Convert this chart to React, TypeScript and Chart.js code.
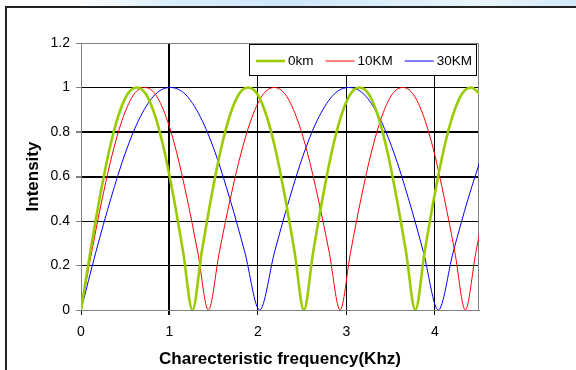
import React, { useEffect, useRef } from 'react';
import { Chart, registerables } from 'chart.js';

Chart.register(...registerables);

const seriesLabels = ['0km', '10KM', '30KM'];
const seriesColors = ['#99cc00', '#ff0000', '#0000ff'];
const seriesWidths = [2.6, 1, 1];

const xTitle = 'Charecteristic frequency(Khz)';
const yTitle = 'Intensity';

// 0km
const greenX = [
  0, 0.105, 0.21, 0.315, 0.42, 0.525, 0.63, 0.735, 0.84, 0.945, 1.05, 1.155,
  1.26, 1.365, 1.47, 1.575, 1.68, 1.785, 1.89, 1.995, 2.1, 2.205, 2.31, 2.415,
  2.52, 2.625, 2.73, 2.835, 2.94, 3.045, 3.15, 3.255, 3.36, 3.465, 3.57, 3.675,
  3.78, 3.885, 3.99, 4.095, 4.2, 4.305, 4.41, 4.515,
];
const greenY = [
  0, 0.26, 0.5, 0.71, 0.87, 0.97, 1, 0.97, 0.87, 0.71, 0.5, 0.26,
  0, 0.26, 0.5, 0.71, 0.87, 0.97, 1, 0.97, 0.87, 0.71, 0.5, 0.26,
  0, 0.26, 0.5, 0.71, 0.87, 0.97, 1, 0.97, 0.87, 0.71, 0.5, 0.26,
  0, 0.26, 0.5, 0.71, 0.87, 0.97, 1, 0.97,
];

// 10KM
const redX = [
  0, 0.12, 0.24, 0.36, 0.48, 0.6, 0.72, 0.84, 0.96, 1.08, 1.2, 1.32,
  1.44, 1.564, 1.688, 1.813, 1.937, 2.061, 2.185, 2.309, 2.433, 2.558, 2.682, 2.806,
  2.93, 3.048, 3.166, 3.284, 3.402, 3.52, 3.638, 3.756, 3.874, 3.992, 4.109, 4.227,
  4.345, 4.465, 4.585,
];
const redY = [
  0, 0.26, 0.5, 0.71, 0.87, 0.97, 1, 0.97, 0.87, 0.71, 0.5, 0.26,
  0, 0.26, 0.5, 0.71, 0.87, 0.97, 1, 0.97, 0.87, 0.71, 0.5, 0.26,
  0, 0.26, 0.5, 0.71, 0.87, 0.97, 1, 0.97, 0.87, 0.71, 0.5, 0.26,
  0, 0.26, 0.5,
];

// 30KM
const blueX = [
  0, 0.168, 0.337, 0.505, 0.673, 0.842, 1.01, 1.178, 1.347, 1.515, 1.683, 1.852,
  2.02, 2.188, 2.357, 2.525, 2.693, 2.862, 3.03, 3.198, 3.367, 3.535, 3.703, 3.872,
  4.04, 4.208, 4.377, 4.545,
];
const blueY = [
  0, 0.26, 0.5, 0.71, 0.87, 0.97, 1, 0.97, 0.87, 0.71, 0.5, 0.26,
  0, 0.26, 0.5, 0.71, 0.87, 0.97, 1, 0.97, 0.87, 0.71, 0.5, 0.26,
  0, 0.26, 0.5, 0.71,
];

const xMin = 0;
const xMax = 4.5;
const xStep = 1;
const yMin = 0;
const yMax = 1.2;
const yStep = 0.2;

const FONT = "'Liberation Sans', Arial, sans-serif";

const pts = (xs: number[], ys: number[]) => xs.map((x, i) => ({ x, y: ys[i] }));

const near = (a: number, b: number) => Math.abs(a - b) < 1e-6;

const frameBorderPlugin = {
  id: 'frameBorder',
  beforeDatasetsDraw(chart: any) {
    const { ctx, chartArea } = chart;
    ctx.save();
    ctx.strokeStyle = '#808080';
    ctx.lineWidth = 1;
    ctx.beginPath();
    const x = Math.round(chartArea.right) - 0.5;
    ctx.moveTo(x, chartArea.top);
    ctx.lineTo(x, chartArea.bottom);
    ctx.stroke();
    ctx.restore();
  },
};

const boxLegendPlugin = {
  id: 'boxLegend',
  afterDraw(chart: any) {
    const { ctx, chartArea } = chart;
    const right = Math.round(chartArea.right) - 2;
    const top = Math.round(chartArea.top) + 1;
    const width = 228;
    const height = 32;
    const left = right - width;
    ctx.save();
    ctx.fillStyle = '#ffffff';
    ctx.fillRect(left, top, width, height);
    ctx.strokeStyle = '#000000';
    ctx.lineWidth = 1;
    ctx.strokeRect(left + 0.5, top + 0.5, width - 1, height - 1);
    ctx.font = `13.5px ${FONT}`;
    ctx.textBaseline = 'middle';
    ctx.textAlign = 'left';
    const cy = top + 17;
    let x = left + 7;
    chart.data.datasets.forEach((ds: any) => {
      ctx.strokeStyle = ds.borderColor;
      ctx.lineWidth = ds.borderWidth;
      ctx.beginPath();
      ctx.moveTo(x, cy);
      ctx.lineTo(x + 29, cy);
      ctx.stroke();
      ctx.fillStyle = '#000000';
      ctx.fillText(ds.label, x + 32, cy);
      x += 32 + ctx.measureText(ds.label).width + 12;
    });
    ctx.restore();
  },
};

export default function App() {
  const canvasRef = useRef<HTMLCanvasElement | null>(null);

  useEffect(() => {
    document.body.style.margin = '0';
    const canvas = canvasRef.current;
    if (!canvas) return;
    Chart.defaults.font.family = FONT;
    Chart.defaults.color = '#000';
    const seriesData = [pts(greenX, greenY), pts(redX, redY), pts(blueX, blueY)];
    const chart = new Chart(canvas, {
      type: 'line',
      data: {
        datasets: seriesData.map((d, i) => ({
          label: seriesLabels[i],
          data: d,
          borderColor: seriesColors[i],
          backgroundColor: seriesColors[i],
          borderWidth: seriesWidths[i],
          pointRadius: 0,
          fill: false,
          cubicInterpolationMode: 'monotone',
        })),
      },
      options: {
        responsive: false,
        maintainAspectRatio: false,
        animation: false,
        layout: { padding: { top: 43, right: 97, left: 0, bottom: 0 } },
        plugins: {
          legend: { display: false },
          tooltip: { enabled: false },
        },
        scales: {
          x: {
            type: 'linear',
            min: xMin,
            max: xMax,
            afterFit: (s: any) => { s.height = 60; },
            ticks: {
              stepSize: xStep,
              includeBounds: false,
              padding: 9,
              color: '#000',
              font: { size: 14 },
              maxRotation: 0,
              callback: (v: any) => String(Number(Number(v).toFixed(1))),
            },
            grid: {
              color: (c: any) => (c.tick && near(c.tick.value, 0) ? '#808080' : '#000'),
              lineWidth: (c: any) => (c.tick && near(c.tick.value, 1) ? 2 : 1),
              tickColor: '#000',
              tickLength: 5,
            },
            border: { color: '#808080', width: 1 },
            title: {
              display: true,
              text: xTitle,
              font: { size: 17, weight: 'bold' },
              color: '#000',
              padding: { top: 0, bottom: 0 },
            },
          },
          y: {
            type: 'linear',
            min: yMin,
            max: yMax,
            afterFit: (s: any) => { s.width = 81; },
            ticks: {
              stepSize: yStep,
              padding: 6,
              color: '#000',
              font: { size: 14 },
              callback: (v: any) => String(Number(Number(v).toFixed(1))),
            },
            grid: {
              color: (c: any) =>
                c.tick && (near(c.tick.value, 0) || near(c.tick.value, 1.2)) ? '#808080' : '#000',
              lineWidth: (c: any) =>
                c.tick && (near(c.tick.value, 0.6) || near(c.tick.value, 0.8)) ? 2 : 1,
              tickColor: '#808080',
              tickLength: 5,
            },
            border: { color: '#808080', width: 1 },
            title: {
              display: true,
              text: yTitle,
              font: { size: 17, weight: 'bold' },
              color: '#000',
              padding: { top: 23, bottom: 0 },
            },
          },
        },
      },
      plugins: [frameBorderPlugin, boxLegendPlugin],
    } as any);
    return () => chart.destroy();
  }, []);

  return (
    <div style={{ position: 'relative', width: 576, height: 370, overflow: 'hidden', background: '#fff' }}>
      <div
        style={{
          position: 'absolute', left: 0, top: 0, width: 576, height: 6,
          background: 'linear-gradient(to right, #ffffff 0%, #ffffff 14%, #d9edfc 30%, #cfe6fa 50%, #dff0fc 70%, #e9f5fd 85%, #d2e8fa 100%)',
        }}
      />
      <div
        style={{
          position: 'absolute', left: 5, top: 6, width: 620, height: 420,
          borderLeft: '2px solid #222', borderTop: '2px solid #222', boxSizing: 'border-box',
        }}
      />
      <canvas
        ref={canvasRef}
        width={576}
        height={370}
        style={{ position: 'absolute', left: 0, top: 0, width: 576, height: 370, display: 'block' }}
      />
    </div>
  );
}
